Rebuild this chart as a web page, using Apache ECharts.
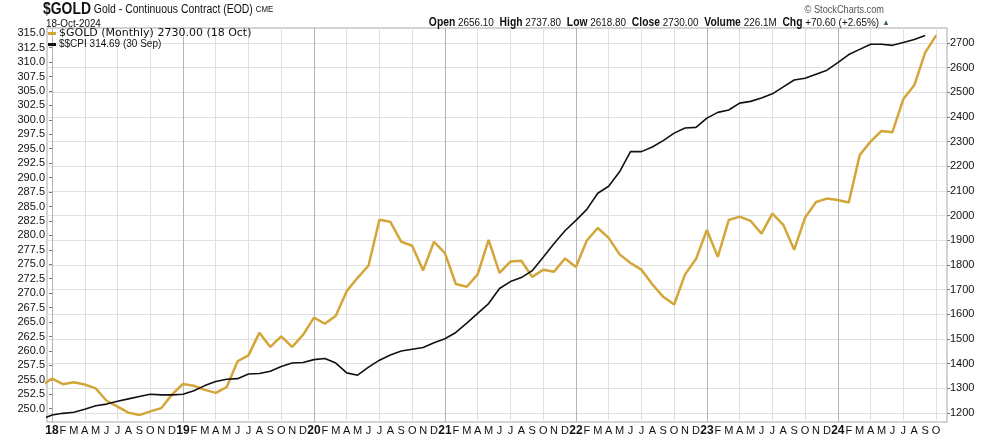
<!DOCTYPE html>
<html>
<head>
<meta charset="utf-8">
<title>$GOLD vs $$CPI</title>
<script src="https://cdn.jsdelivr.net/npm/echarts@6/dist/echarts.min.js"></script>
<style>
  html, body { margin: 0; padding: 0; background: #fff; }
  #chart { width: 990px; height: 438px; }
</style>
</head>
<body>
<div id="chart"></div>
<script>
// x axis: one slot per month, index 0 = Jan 2018 ... 81 = Oct 2024
const years = ['18', '19', '20', '21', '22', '23', '24']
const monthLetters = ['F', 'M', 'A', 'M', 'J', 'J', 'A', 'S', 'O', 'N', 'D']
const monthLabels = []
years.forEach(y => {
  monthLabels.push(y)
  monthLetters.forEach(m => monthLabels.push(m))
})
monthLabels.length = 82

// gold monthly close, Dec 2017 .. Oct 2024 (first one sits left of the plot edge)
const goldMonthly = [
  1310,
  1340, 1317, 1325, 1316, 1300, 1250, 1226, 1202, 1192, 1207, 1220, 1276,
  1318, 1311, 1294, 1282, 1305, 1410, 1434, 1526, 1468, 1511, 1468, 1517,
  1587, 1562, 1594, 1694, 1748, 1798, 1983, 1975, 1894, 1878, 1778, 1894,
  1848, 1723, 1712, 1762, 1902, 1768, 1814, 1817, 1752, 1781, 1773, 1826,
  1792, 1899, 1950, 1910, 1843, 1808, 1781, 1722, 1671, 1640, 1762, 1824,
  1942, 1833, 1982, 1996, 1979, 1927, 2008, 1963, 1862, 1992, 2055, 2069,
  2063, 2053, 2245, 2300, 2343, 2338, 2472, 2528, 2660, 2730
]
// CPI, Dec 2017 .. Sep 2024
const cpi = [
  248.2,
  248.9, 249.2, 249.4, 249.9, 250.5, 250.8, 251.3, 251.7, 252.1, 252.5, 252.4, 252.4,
  252.5, 253.1, 254.0, 254.7, 255.1, 255.2, 256.0, 256.1, 256.5, 257.3, 257.9, 258.0,
  258.5, 258.7, 257.9, 256.2, 255.8, 257.2, 258.4, 259.3, 260.0, 260.3, 260.6, 261.4,
  262.1, 263.2, 264.8, 266.5, 268.2, 270.8, 272.0, 272.7, 273.9, 276.2, 278.6, 280.8,
  282.6, 284.5, 287.3, 288.5, 291.0, 294.5, 294.5, 295.3, 296.4, 297.7, 298.6, 298.7,
  300.3, 301.3, 301.7, 302.9, 303.2, 303.8, 304.5, 305.7, 306.9, 307.2, 307.9, 308.6,
  309.9, 311.3, 312.2, 313.1, 313.1, 312.9, 313.4, 313.9, 314.6
]

const cpiTicks = [
  250, 252.5, 255, 257.5, 260, 262.5, 265, 267.5, 270, 272.5, 275, 277.5, 280, 282.5,
  285, 287.5, 290, 292.5, 295, 297.5, 300, 302.5, 305, 307.5, 310, 312.5, 315
]
const goldTicks = [1200, 1300, 1400, 1500, 1600, 1700, 1800, 1900, 2000, 2100, 2200, 2300, 2400, 2500, 2600, 2700]
const monthTicks = monthLabels.map((m, i) => i)
const quarterTicks = monthTicks.filter(i => i % 3 === 0)

const goldName = '$GOLD (Monthly) 2730.00 (18 Oct)'
const cpiName = '$$CPI 314.69 (30 Sep)'
const font = '"Liberation Sans", Arial, sans-serif'

const chart = echarts.init(document.getElementById('chart'))
chart.setOption({
  animation: false,
  textStyle: { fontFamily: font },
  grid: {
    left: 47, right: 43, top: 28, bottom: 16,
    show: true, borderColor: '#a8a8a8', borderWidth: 1
  },
  graphic: [
    {
      // header is a condensed face in the original, squeeze it horizontally
      type: 'text', x: 43, y: 2, scaleX: 0.87,
      style: {
        text: '{t|$GOLD} {s|Gold - Continuous Contract (EOD)} {c|CME}',
        rich: {
          t: { fontFamily: font, fontWeight: 'bold', fontSize: 16, fill: '#111' },
          s: { fontFamily: font, fontSize: 12, fill: '#111' },
          c: { fontFamily: font, fontSize: 9, fill: '#111' }
        }
      }
    },
    {
      type: 'text', x: 46, y: 19, scaleX: 0.94,
      style: { text: '18-Oct-2024', font: '10.5px ' + font, fill: '#111' }
    },
    {
      type: 'text', x: 884, y: 5, scaleX: 0.92,
      style: { text: '© StockCharts.com', align: 'right', font: '10px ' + font, fill: '#555' }
    },
    {
      type: 'text', x: 879, y: 17, scaleX: 0.86,
      style: {
        align: 'right',
        text: '{b|Open} {v|2656.10}  {b|High} {v|2737.80}  {b|Low} {v|2618.80}  {b|Close} {v|2730.00}  {b|Volume} {v|226.1M}  {b|Chg} {v|+70.60 (+2.65%)}',
        rich: {
          b: { fontFamily: font, fontWeight: 'bold', fontSize: 12, fill: '#111' },
          v: { fontFamily: font, fontSize: 11.5, fill: '#111' }
        }
      }
    },
    {
      type: 'text', x: 882, y: 19,
      style: { text: '▲', font: '8px ' + font, fill: '#3d6e3d' }
    }
  ],
  legend: {
    orient: 'vertical', left: 48, top: 28,
    itemWidth: 8, itemHeight: 3, itemGap: 0, padding: 0,
    icon: 'rect',
    data: [
      { name: goldName, textStyle: { fontFamily: '"DejaVu Sans", sans-serif', fontSize: 11 } },
      { name: cpiName, textStyle: { fontFamily: font, fontSize: 10 } }
    ],
    textStyle: { color: '#111', padding: [0, 0, 0, -2], lineHeight: 11 }
  },
  xAxis: {
    type: 'value', min: -0.46, max: 82.0,
    axisLine: { show: false },
    axisTick: { show: false, customValues: quarterTicks },
    splitLine: {
      show: true,
      lineStyle: { color: ['#b4b4b4', '#e0e0e0', '#e0e0e0', '#e0e0e0'], width: 1 }
    },
    axisLabel: {
      customValues: monthTicks,
      margin: 3,
      fontSize: 11,
      color: '#111',
      formatter: v => {
        const t = monthLabels[Math.round(v)]
        return years.includes(t) ? '{y|' + t + '}' : t
      },
      rich: { y: { fontWeight: 'bold', fontSize: 12, color: '#111' } }
    }
  },
  yAxis: [
    {
      type: 'value', position: 'left', min: 247.7, max: 315.9,
      axisLine: { show: false },
      axisTick: { show: true, length: 3, inside: false, customValues: cpiTicks, lineStyle: { color: '#777' } },
      splitLine: { show: false },
      axisLabel: { customValues: cpiTicks, margin: 2, fontSize: 11, color: '#111', formatter: v => v.toFixed(1) }
    },
    {
      type: 'value', position: 'right', min: 1164, max: 2760,
      axisLine: { show: false },
      axisTick: { show: true, length: 3, customValues: goldTicks, lineStyle: { color: '#777' } },
      splitLine: { show: true, lineStyle: { color: '#e0e0e0' } },
      axisLabel: { customValues: goldTicks, margin: 3, fontSize: 11, color: '#111', formatter: v => String(v) }
    }
  ],
  series: [
    {
      name: goldName, type: 'line', yAxisIndex: 1,
      data: goldMonthly.map((v, k) => [k - 1, v]),
      symbol: 'none', color: '#d4a63a',
      lineStyle: { width: 2.5, color: '#d4a63a' }
    },
    {
      name: cpiName, type: 'line', yAxisIndex: 0,
      data: cpi.map((v, k) => [k - 1, v]),
      symbol: 'none', color: '#111',
      lineStyle: { width: 1.6, color: '#111' }
    }
  ]
})
</script>
</body>
</html>
